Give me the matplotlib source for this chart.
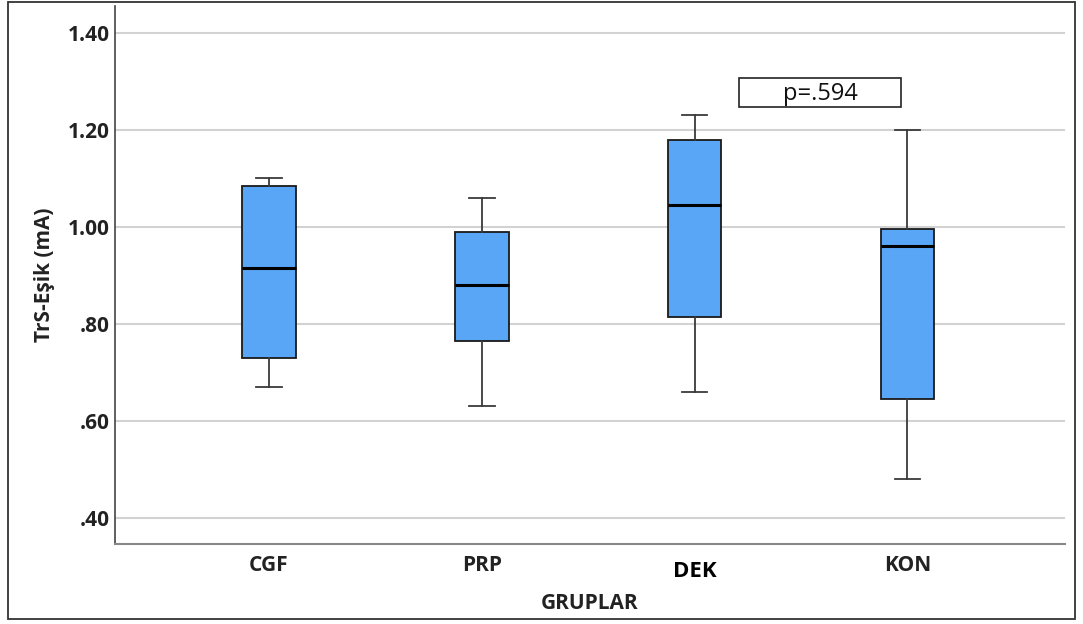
import matplotlib.pyplot as plt
from matplotlib.patches import Rectangle
from matplotlib.transforms import ScaledTranslation

# group names and box statistics
groups = ['CGF', 'PRP', 'DEK', 'KON']
whisker_low = [0.67, 0.63, 0.66, 0.48]
q1 = [0.73, 0.765, 0.815, 0.645]
median = [0.915, 0.88, 1.045, 0.96]
q3 = [1.085, 0.99, 1.18, 0.995]
whisker_high = [1.10, 1.06, 1.23, 1.20]
y_ticks = [0.40, 0.60, 0.80, 1.00, 1.20, 1.40]
y_tick_labels = ['.40', '.60', '.80', '1.00', '1.20', '1.40']
p_text = 'p=.594'

FONT = 'Open Sans'
BOX_COLOR = '#58A6F5'

fig = plt.figure(figsize=(10.83, 6.24), dpi=100)
ax = fig.add_axes([0.1062, 0.128, 0.877, 0.862])

stats = []
for i, g in enumerate(groups):
    stats.append({'label': g, 'whislo': whisker_low[i], 'q1': q1[i], 'med': median[i],
                  'q3': q3[i], 'whishi': whisker_high[i], 'fliers': []})

ax.bxp(stats, positions=range(1, len(groups) + 1), widths=0.252, patch_artist=True,
       showfliers=False,
       boxprops=dict(facecolor=BOX_COLOR, edgecolor='#1a1a1a', linewidth=1.3),
       medianprops=dict(color='black', linewidth=2.2),
       whiskerprops=dict(color='#3a3a3a', linewidth=1.3),
       capprops=dict(color='#3a3a3a', linewidth=1.3),
       capwidths=0.12)

ax.set_xlim(0.276, 4.74)
ax.set_ylim(0.346, 1.455)
ax.set_yticks(y_ticks)
ax.set_yticklabels(y_tick_labels)
ax.grid(axis='y', color='#d2d2d2', linewidth=1.5)
ax.set_axisbelow(True)

for side in ['top', 'right']:
    ax.spines[side].set_visible(False)
ax.spines['left'].set_color('#444444')
ax.spines['left'].set_linewidth(1.2)
ax.spines['bottom'].set_color('#888888')
ax.spines['bottom'].set_linewidth(1.5)

ax.tick_params(axis='both', length=0)
ax.tick_params(axis='y', pad=4)
ax.tick_params(axis='x', pad=8)
for lab in ax.get_yticklabels() + ax.get_xticklabels():
    lab.set_fontfamily(FONT)
    lab.set_fontweight('bold')
    lab.set_fontsize(15)
    lab.set_color('#222222')

# DEK label sits a little lower and larger in the original
dek = ax.get_xticklabels()[2]
dek.set_fontsize(16)
dek.set_color('black')
dek.set_transform(dek.get_transform() + ScaledTranslation(0, -4 / 72, fig.dpi_scale_trans))

ax.set_ylabel('TrS-Eşik (mA)', fontfamily=FONT, fontweight='bold', fontsize=15,
              color='#222222', labelpad=9)
ax.set_xlabel('GRUPLAR', fontfamily=FONT, fontweight='bold', fontsize=15,
              color='#222222', labelpad=8)

# p-value box
ax.add_patch(Rectangle((3.21, 1.247), 0.76, 0.06, facecolor='white',
                       edgecolor='#222222', linewidth=1.2, zorder=5))
ax.text(3.59, 1.275, p_text, ha='center', va='center', fontfamily=FONT,
        fontsize=17, color='#111111', zorder=6)

# outer frame round the whole chart
fig.patches.append(Rectangle((8 / 1083, 5 / 624), 1067 / 1083, 617 / 624,
                             transform=fig.transFigure, fill=False,
                             edgecolor='#333333', linewidth=1.3))

fig.savefig('out.png', dpi=100)
